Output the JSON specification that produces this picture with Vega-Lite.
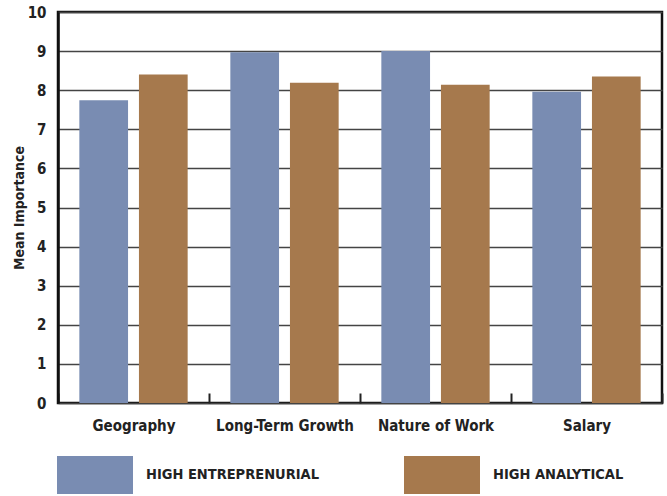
{
  "$schema": "https://vega.github.io/schema/vega-lite/v6.json",
  "width": 604,
  "height": 391,
  "autosize": {"type": "none"},
  "padding": {"left": 58, "top": 12, "right": 5, "bottom": 93},
  "background": "white",
  "data": {
    "values": [
      {"category": "Geography", "group": "HIGH ENTREPRENURIAL", "value": 7.74},
      {"category": "Geography", "group": "HIGH ANALYTICAL", "value": 8.40},
      {"category": "Long-Term Growth", "group": "HIGH ENTREPRENURIAL", "value": 8.97},
      {"category": "Long-Term Growth", "group": "HIGH ANALYTICAL", "value": 8.19},
      {"category": "Nature of Work", "group": "HIGH ENTREPRENURIAL", "value": 9.0},
      {"category": "Nature of Work", "group": "HIGH ANALYTICAL", "value": 8.14},
      {"category": "Salary", "group": "HIGH ENTREPRENURIAL", "value": 7.96},
      {"category": "Salary", "group": "HIGH ANALYTICAL", "value": 8.35}
    ]
  },
  "mark": {"type": "bar"},
  "encoding": {
    "x": {
      "field": "category",
      "type": "nominal",
      "sort": null,
      "scale": {"paddingInner": 0, "paddingOuter": 0},
      "axis": {
        "title": null,
        "labelAngle": 0,
        "domain": false,
        "ticks": true,
        "tickBand": "extent",
        "tickSize": -10,
        "tickWidth": 2,
        "tickColor": "#222",
        "labelPadding": 25,
        "labelFontSize": 15,
        "labelFontWeight": "bold",
        "labelColor": "#222",
        "labelFont": "Liberation Sans Narrow, DejaVu Sans Condensed, sans-serif",
        "grid": false
      }
    },
    "xOffset": {
      "field": "group",
      "type": "nominal",
      "sort": ["HIGH ENTREPRENURIAL", "HIGH ANALYTICAL"],
      "scale": {"paddingInner": 0.183, "paddingOuter": 0.358}
    },
    "y": {
      "field": "value",
      "type": "quantitative",
      "scale": {"domain": [0, 10], "nice": false},
      "axis": {
        "title": "Mean Importance",
        "titleFontSize": 14,
        "titleFontWeight": "bold",
        "titleColor": "#222",
        "titleFont": "Liberation Sans Narrow, DejaVu Sans Condensed, sans-serif",
        "titlePadding": 1,
        "values": [0, 1, 2, 3, 4, 5, 6, 7, 8, 9, 10],
        "ticks": false,
        "domain": true,
        "domainColor": "#111",
        "domainWidth": 2.5,
        "grid": true,
        "gridColor": "#444",
        "gridWidth": 1.5,
        "labelPadding": 12,
        "labelFontSize": 15,
        "labelFontWeight": "bold",
        "labelColor": "#222",
        "labelFont": "Liberation Sans Narrow, DejaVu Sans Condensed, sans-serif"
      }
    },
    "color": {
      "field": "group",
      "type": "nominal",
      "scale": {
        "domain": ["HIGH ENTREPRENURIAL", "HIGH ANALYTICAL"],
        "range": ["#798cb2", "#a6794d"]
      },
      "legend": {
        "title": null,
        "orient": "none",
        "legendX": -1,
        "legendY": 425,
        "direction": "horizontal",
        "columns": 2,
        "columnPadding": 85,
        "symbolType": "M-1,-0.5H1V0.5H-1Z",
        "symbolSize": 5776,
        "symbolStrokeWidth": 0,
        "symbolOpacity": 1,
        "labelOffset": 13,
        "labelFontSize": 14.5,
        "labelFontWeight": "bold",
        "labelColor": "#222",
        "labelFont": "Liberation Sans Narrow, DejaVu Sans Condensed, sans-serif",
        "labelLimit": 400
      }
    }
  },
  "config": {
    "view": {"stroke": "#111", "strokeWidth": 2.5},
    "axis": {"zindex": 0}
  }
}
